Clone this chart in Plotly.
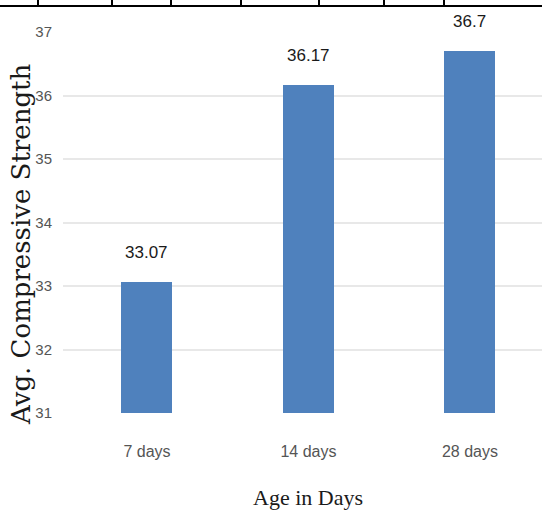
import plotly.graph_objects as go

# Average compressive strength by curing age
ages = ["7 days", "14 days", "28 days"]
strength = [33.07, 36.17, 36.7]
y_ticks = [31, 32, 33, 34, 35, 36, 37]

# Column edges of the table rule running across the top of the page
table_cols = [38, 112, 171, 241, 319, 384, 444]

W, H = 542, 519
M_L, M_T, M_B = 63, 32, 106
plot_w = W - M_L
plot_h = H - M_T - M_B

sans = "Liberation Sans, Arial, sans-serif"
serif = "Liberation Serif, Times New Roman, serif"
wide_serif = "DejaVu Serif, serif"

fig = go.Figure()
fig.add_trace(go.Bar(
    x=ages, y=strength, base=0,
    marker=dict(color="#4F81BD", line=dict(width=0)),
    width=0.316,
    showlegend=False,
))

# value labels above each bar
for a, v in zip(ages, strength):
    fig.add_annotation(
        x=a, y=v, text=f"{v:g}", showarrow=False,
        yanchor="bottom", yshift=18,
        font=dict(family=sans, size=17, color="#1a1a1a"),
    )

# axis titles
fig.add_annotation(
    xref="paper", yref="paper", x=(21 - M_L) / plot_w, y=(H - M_B - 245) / plot_h,
    text="Avg. Compressive Strength", textangle=-90, showarrow=False,
    xanchor="center", yanchor="middle",
    font=dict(family=wide_serif, size=26, color="#1a1a1a"),
)
fig.add_annotation(
    xref="paper", yref="paper", x=(308 - M_L) / plot_w, y=(H - M_B - 497) / plot_h,
    text="Age in Days", showarrow=False,
    xanchor="center", yanchor="middle",
    font=dict(family=serif, size=22, color="#1a1a1a"),
)

# table border: top rule and column separators
rule_y = (H - M_B - 6) / plot_h
fig.add_shape(type="line", xref="paper", yref="paper",
              x0=-0.2, x1=1.2, y0=rule_y, y1=rule_y,
              line=dict(color="black", width=2))
for cx in table_cols:
    xd = (cx - M_L) / plot_w
    fig.add_shape(type="line", xref="paper", yref="paper",
                  x0=xd, x1=xd,
                  y0=rule_y, y1=(H - M_B + 2) / plot_h,
                  line=dict(color="black", width=2))

fig.update_layout(
    width=W, height=H,
    margin=dict(l=M_L, r=0, t=M_T, b=M_B),
    paper_bgcolor="white", plot_bgcolor="white",
    bargap=0,
    xaxis=dict(
        range=[-0.52, 2.446],
        showgrid=False, showline=False, zeroline=False,
        ticks="", ticklabelstandoff=27,
        tickfont=dict(family=sans, size=16, color="#555555"),
    ),
    yaxis=dict(
        range=[31, 37],
        tickvals=y_ticks,
        showgrid=True, gridcolor="#e8e8e8", gridwidth=2,
        zeroline=False, showline=False, ticks="",
        ticklabelstandoff=10,
        tickfont=dict(family=sans, size=15, color="#555555"),
    ),
)

fig.write_html("out.html")
